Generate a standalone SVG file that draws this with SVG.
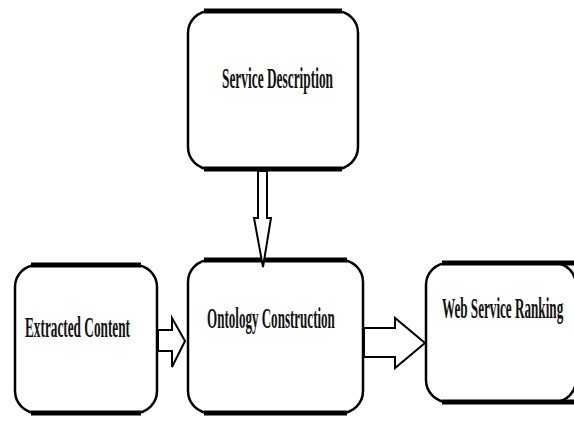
<svg xmlns="http://www.w3.org/2000/svg" width="574" height="421" viewBox="0 0 574 421">
<style>
.box{fill:#fff;stroke:#000;stroke-width:2.5}
.edge{stroke:#000;stroke-width:5;stroke-linecap:butt}
.lbl{font-family:"Liberation Serif","Times New Roman",serif;font-weight:bold;font-size:29px;fill:#111}
.arr{fill:#fff;stroke:#000;stroke-width:2;stroke-linejoin:miter}
</style>
<rect width="574" height="421" fill="#fff"/>
<g id="service-description">
<rect class="box" x="188" y="11" width="170" height="158" rx="22"/>
<line class="edge" x1="204" y1="11" x2="342" y2="11"/>
<line class="edge" x1="204" y1="169" x2="342" y2="169"/>
<text class="lbl" transform="translate(222,88) scale(0.461,1)">Service Description</text>
</g>
<g id="extracted-content">
<rect class="box" x="15" y="265" width="142" height="148" rx="22"/>
<line class="edge" x1="31" y1="265" x2="141" y2="265"/>
<line class="edge" x1="31" y1="413" x2="141" y2="413"/>
<text class="lbl" transform="translate(25,337) scale(0.4575,1)">Extracted Content</text>
</g>
<g id="ontology-construction">
<rect class="box" x="188" y="260" width="175" height="153" rx="22"/>
<line class="edge" x1="204" y1="260" x2="347" y2="260"/>
<line class="edge" x1="204" y1="413" x2="347" y2="413"/>
<text class="lbl" transform="translate(207,328) scale(0.45,1)">Ontology Construction</text>
</g>
<g id="web-service-ranking">
<rect class="box" x="426" y="263" width="150" height="139" rx="22"/>
<line class="edge" x1="442" y1="263" x2="574" y2="263"/>
<line class="edge" x1="442" y1="402" x2="574" y2="402"/>
<text class="lbl" transform="translate(442,318) scale(0.4535,1)">Web Service Ranking</text>
</g>
<g id="connectors">
<polygon class="arr" points="258,171 267,171 267,218 271,218 263,267 254,218 258,218"/>
<polygon class="arr" points="158,330 172,330 172,318 185,341 172,367 172,351 158,351"/>
<polygon class="arr" points="364,328 395,328 395,318 425,343 395,368 395,357 364,357"/>
</g>
</svg>
